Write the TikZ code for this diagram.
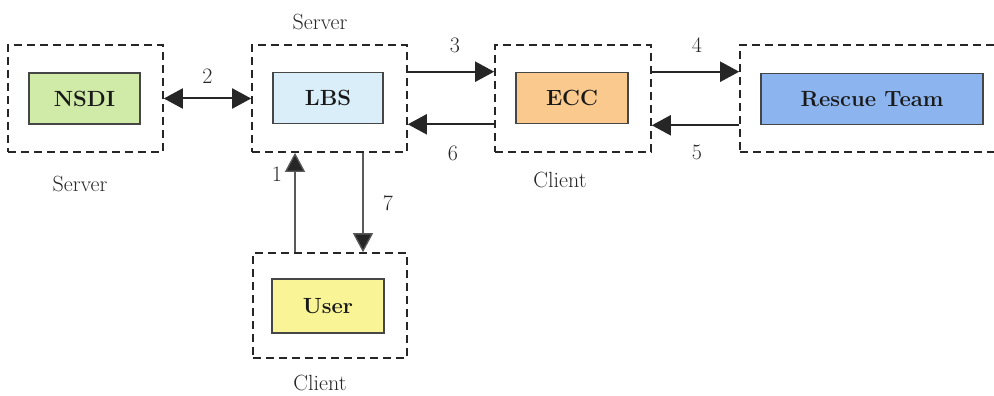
\documentclass[tikz,border=0pt]{standalone}
\usetikzlibrary{arrows.meta,calc}

\definecolor{nsdiFill}{RGB}{208,234,168}
\definecolor{lbsFill}{RGB}{218,238,250}
\definecolor{eccFill}{RGB}{249,201,142}
\definecolor{userFill}{RGB}{249,245,150}
\definecolor{teamFill}{RGB}{140,180,238}
\definecolor{boxEdge}{RGB}{70,70,70}

\tikzset{
  group/.style={draw=black!85, line width=1.6pt, dash pattern=on 8pt off 5pt,
    inner sep=0pt, minimum height=107pt},
  unit/.style={draw=boxEdge, line width=1.6pt, inner sep=0pt, minimum height=51pt,
    font=\fontsize{22}{26}\selectfont\bfseries, text=black!90},
  lbl/.style={font=\fontsize{22}{26}\selectfont, text=black!85, inner sep=0pt},
  arr/.style={line width=2pt, draw=black!85,
    -{Triangle[length=19pt,width=20pt]}},
  varr/.style={line width=1.3pt, draw=black!65,
    -{Triangle[length=19pt,width=20pt,fill=black!85]}},
}

\begin{document}
\begin{tikzpicture}[x=1pt,y=-1pt]
  \useasboundingbox (0,0) rectangle (994,396);
  \clip (0,0) rectangle (994,396);

  % dashed group frames
  \node[group, minimum width=155pt] (nsdiG) at (85.5,98.5) {};
  \node[group, minimum width=155pt] (lbsG)  at (329.5,98.5) {};
  \node[group, minimum width=156pt] (eccG)  at (573,98.5) {};
  \node[group, minimum width=262pt] (teamG) at (871,98.5) {};
  \node[group, minimum width=154pt, minimum height=105pt] (userG) at (330,305.5) {};

  % components
  \node[unit, fill=nsdiFill, minimum width=111pt] (nsdi) at (84.5,98.5) {NSDI};
  \node[unit, fill=lbsFill,  minimum width=110pt] (lbs)  at (328,98) {LBS};
  \node[unit, fill=eccFill,  minimum width=112pt] (ecc)  at (572,98) {ECC};
  \node[unit, fill=teamFill, minimum width=222pt] (team) at (872,99) {Rescue Team};
  \node[unit, fill=userFill, minimum width=112pt, minimum height=54pt] (user) at (328,306) {User};

  % role captions
  \node[lbl] (capLbs)  at (320,22)  {Server};
  \node[lbl] (capNsdi) at (80,184)  {Server};
  \node[lbl] (capEcc)  at (560,180) {Client};
  \node[lbl] (capUser) at (320,383) {Client};

  % message flow
  \draw[arr, {Triangle[length=19pt,width=20pt]}-{Triangle[length=19pt,width=20pt]}]
    (nsdiG.east) -- node[lbl, above=14pt] (n2) {2} (lbsG.west);

  \coordinate (upX) at (295,0);
  \coordinate (downX) at (363,0);
  \draw[varr] (userG.north -| upX) -- (lbsG.south -| upX);
  \draw[varr] (lbsG.south -| downX) -- (userG.north -| downX);
  \node[lbl] (n1) at (277,174) {1};
  \node[lbl] (n7) at (388,203) {7};

  \draw[arr] (lbsG.east |- ecc.north) -- (eccG.west |- ecc.north);
  \draw[arr] (eccG.west |- ecc.south) -- (lbsG.east |- ecc.south);
  \node[lbl] (n3) at (455,45)  {3};
  \node[lbl] (n6) at (453,153) {6};

  \draw[arr] (eccG.east |- ecc.north) -- (teamG.west |- ecc.north);
  \draw[arr] (teamG.west |- team.south) -- (eccG.east |- team.south);
  \node[lbl] (n4) at (697,45)  {4};
  \node[lbl] (n5) at (697,152) {5};
\end{tikzpicture}
\end{document}
